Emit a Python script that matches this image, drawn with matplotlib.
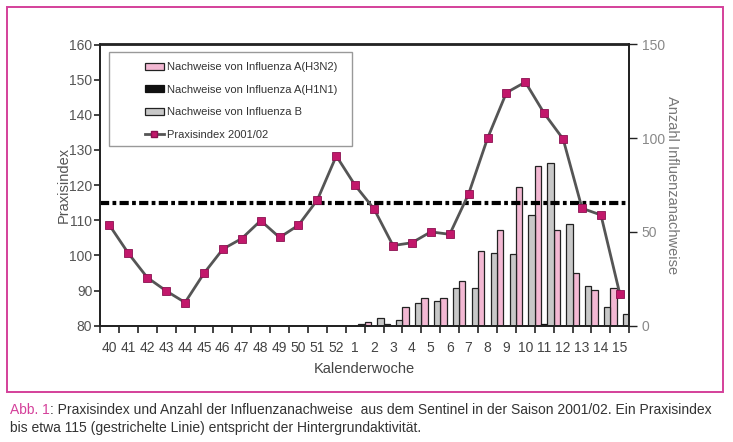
import matplotlib
matplotlib.use("Agg")
import matplotlib.pyplot as plt
from matplotlib.patches import Rectangle
from matplotlib.lines import Line2D
from matplotlib.font_manager import fontManager
import numpy as np

weeks = ["40", "41", "42", "43", "44", "45", "46", "47", "48", "49", "50", "51", "52",
         "1", "2", "3", "4", "5", "6", "7", "8", "9", "10", "11", "12", "13", "14", "15"]
praxisindex = [108.6, 100.6, 93.7, 89.9, 86.6, 94.9, 101.8, 104.8, 109.9, 105.1, 108.6, 115.8, 128.3,
               119.9, 113.2, 102.8, 103.6, 106.7, 106.0, 117.5, 133.3, 146.3, 149.3, 140.4, 133.1,
               113.4, 111.5, 89.0]
h3n2 = [0, 0, 0, 0, 0, 0, 0, 0, 0, 0, 0, 0, 0,
        0, 2, 1, 10, 15, 15, 24, 40, 51, 74, 85, 51, 28, 19, 20]
h1n1 = [0, 0, 0, 0, 0, 0, 0, 0, 0, 0, 0, 0, 0,
        0, 0, 0, 0, 0, 0, 0, 0, 0, 0, 1, 0, 0, 0, 0]
infb = [0, 0, 0, 0, 0, 0, 0, 0, 0, 0, 0, 0, 0,
        1, 4, 3, 12, 13, 20, 20, 39, 38, 59, 87, 54, 21, 10, 6]
baseline_index = 115
legend_labels = ["Nachweise von Influenza A(H3N2)", "Nachweise von Influenza A(H1N1)",
                 "Nachweise von Influenza B", "Praxisindex 2001/02"]

names = {f.name for f in fontManager.ttflist}
narrow = "Liberation Sans Narrow" if "Liberation Sans Narrow" in names else "Liberation Sans"
plt.rcParams['font.family'] = [narrow, 'DejaVu Sans']

W, H = 733, 442
fig = plt.figure(figsize=(W / 100, H / 100), dpi=100)

# pink frame
fig.patches.append(Rectangle((7 / W, 1 - 392 / H), 716 / W, 385 / H, transform=fig.transFigure,
                             fill=False, edgecolor="#d4409a", linewidth=1.4))

left, right, top, bottom = 100, 629.3, 44.5, 325.7
ax = fig.add_axes([left / W, 1 - bottom / H, (right - left) / W, (bottom - top) / H])
ax2 = ax.twinx()
ax.set_zorder(ax2.get_zorder() + 1)
ax.patch.set_visible(False)

def fx(px):
    return (px - left) / (right - left)

def fy(py):
    return 1 - (py - top) / (bottom - top)

x = np.arange(len(weeks))
bw = 1 / 3
b1 = ax2.bar(x - bw, h3n2, width=bw, color="#f3b8d3", edgecolor="#222222", linewidth=0.9)
b2 = ax2.bar(x, h1n1, width=bw, color="#111111", edgecolor="#111111", linewidth=0.9)
b3 = ax2.bar(x + bw, infb, width=bw, color="#c8c8c8", edgecolor="#222222", linewidth=0.9)
ax2.set_ylim(0, 150)
ax2.set_yticks([0, 50, 100, 150])

ax.axhline(baseline_index, color="#000000", linewidth=3, linestyle=(0, (2.2, 0.8, 0.9, 0.8)), zorder=2)
ln, = ax.plot(x, praxisindex, color="#555555", linewidth=2, marker="s", markersize=5.5,
              markerfacecolor="#c2186b", markeredgecolor="#8a1050", markeredgewidth=0.6, zorder=3)
ax.set_ylim(80, 160)
ax.set_yticks(np.arange(80, 161, 10))
ax.set_xlim(-0.5, len(weeks) - 0.5)

# ticks at boundaries, labels at centres
ax.set_xticks(np.arange(len(weeks) + 1) - 0.5)
ax.set_xticklabels([])
ax.set_xticks(x, minor=True)
ax.set_xticklabels(weeks, minor=True)
ax.tick_params(axis="x", which="major", direction="out", length=5, width=1.2, color="#222222")
ax.tick_params(axis="x", which="minor", length=0, pad=11, labelsize=10, labelcolor="#444444")
ax.tick_params(axis="y", direction="out", length=4, width=1.2, color="#222222", labelsize=10,
               labelcolor="#555555", pad=1.5)
ax2.tick_params(axis="y", direction="out", length=6, width=1.0, color="#222222", labelsize=10,
                labelcolor="#888888", pad=3)

for a in (ax, ax2):
    for s in a.spines.values():
        s.set_linewidth(1.3)
        s.set_color("#222222")

ax.set_xlabel("Kalenderwoche", fontsize=10.5, color="#444444", labelpad=5)
ax.set_ylabel("Praxisindex", fontsize=10.5, color="#555555", labelpad=-1)
ax2.set_ylabel("Anzahl Influenzanachweise", fontsize=10.5, color="#777777", rotation=270,
               labelpad=0, va="bottom")

# legend: manual frame + frameless legend
frame = Rectangle((fx(109), fy(146)), fx(352) - fx(109), fy(52) - fy(146), transform=ax.transAxes,
                  fill=True, facecolor="white", edgecolor="#999999", linewidth=1.0, zorder=4)
ax.add_patch(frame)
lh = Line2D([], [], color="#555555", linewidth=2, marker="s", markersize=5,
            markerfacecolor="#c2186b", markeredgecolor="#8a1050")
leg = ax.legend([b1, b2, b3, lh], legend_labels, loc="upper left",
                bbox_to_anchor=(fx(145), fy(62)), fontsize=8, frameon=False,
                borderpad=0, labelspacing=1.13, handlelength=1.7, handleheight=0.6,
                handletextpad=0.25, borderaxespad=0, labelcolor="#333333")
leg.set_zorder(5)

fig.text(10 / W, 1 - 410 / H, "Abb. 1", color="#d4409a", fontsize=10, va="center", ha="left")
fig.canvas.draw()
bb = fig.texts[0].get_window_extent()
fig.text(bb.x1 / W, 1 - 410 / H,
         ": Praxisindex und Anzahl der Influenzanachweise  aus dem Sentinel in der Saison 2001/02. Ein Praxisindex",
         color="#333333", fontsize=10, va="center", ha="left")
fig.text(10 / W, 1 - 428 / H, "bis etwa 115 (gestrichelte Linie) entspricht der Hintergrundaktivität.",
         color="#333333", fontsize=10, va="center", ha="left")

fig.savefig("out.png", dpi=100)
